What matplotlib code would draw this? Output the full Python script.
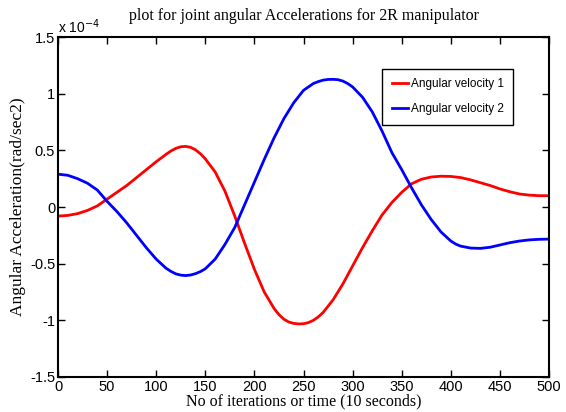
import numpy as np
from matplotlib import pyplot as plt

plt.rcParams['axes.unicode_minus'] = False

# joint angular accelerations, in units of 1e-4 rad/sec^2
# (extra samples around the turning points)
x1 = [0, 10, 20, 30, 40, 50, 60, 70, 80, 90,
      100, 110, 115, 120, 125, 130, 135, 140, 145, 150,
      160, 170, 180, 190, 200, 210, 220, 225, 230, 235,
      240, 245, 250, 255, 260, 265, 270, 280, 290, 300,
      310, 320, 330, 340, 350, 360, 370, 380, 390, 400,
      410, 420, 430, 440, 450, 460, 470, 480, 490, 500]
acc1 = [-0.08, -0.074, -0.058, -0.030, 0.01, 0.07, 0.13, 0.19, 0.26, 0.33,
        0.40, 0.465, 0.495, 0.518, 0.532, 0.535, 0.527, 0.505, 0.47, 0.425,
        0.31, 0.14, -0.08, -0.32, -0.55, -0.75, -0.895, -0.95, -0.99, -1.015,
        -1.027, -1.032, -1.03, -1.02, -1.0, -0.97, -0.93, -0.82, -0.68, -0.52,
        -0.36, -0.21, -0.07, 0.04, 0.13, 0.205, 0.245, 0.265, 0.272, 0.27,
        0.26, 0.24, 0.215, 0.19, 0.16, 0.135, 0.115, 0.105, 0.10, 0.10]

x2 = [0, 10, 20, 30, 40, 50, 60, 70, 80, 90,
      100, 110, 115, 120, 125, 130, 135, 140, 145, 150,
      160, 170, 180, 190, 200, 210, 220, 230, 240, 250,
      260, 265, 270, 275, 280, 285, 290, 295, 300, 310,
      320, 330, 340, 350, 360, 370, 380, 390, 400, 405,
      410, 420, 430, 440, 450, 460, 470, 480, 490, 500]
acc2 = [0.29, 0.28, 0.25, 0.21, 0.15, 0.05, -0.04, -0.14, -0.25, -0.36,
        -0.46, -0.54, -0.568, -0.59, -0.601, -0.605, -0.60, -0.588, -0.57, -0.545,
        -0.46, -0.33, -0.18, 0.02, 0.22, 0.42, 0.61, 0.78, 0.92, 1.03,
        1.09, 1.107, 1.12, 1.126, 1.127, 1.124, 1.112, 1.09, 1.06, 0.97,
        0.84, 0.67, 0.48, 0.33, 0.17, 0.02, -0.11, -0.22, -0.30, -0.327,
        -0.345, -0.362, -0.365, -0.355, -0.335, -0.315, -0.30, -0.29, -0.285, -0.283]

xticks = list(range(0, 501, 50))
yticks = [-1.5, -1, -0.5, 0, 0.5, 1, 1.5]
ytick_labels = ['-1.5', '-1', '-0.5', '0', '0.5', '1', '1.5']

fig = plt.figure(figsize=(5.66, 4.12), dpi=100)
ax = fig.add_axes([0.1025, 0.085, 0.8675, 0.825])

ax.plot(x1, acc1, color='red', linewidth=2.0, label='Angular velocity 1')
ax.plot(x2, acc2, color='blue', linewidth=2.0, label='Angular velocity 2')

ax.set_xlim(0, 500)
ax.set_ylim(-1.5, 1.5)
ax.set_xticks(xticks)
ax.set_xticklabels([str(t) for t in xticks])
ax.set_yticks(yticks)
ax.set_yticklabels(ytick_labels)

ax.tick_params(direction='in', length=5, width=1, top=True, right=True,
               labelsize=10.5, pad=2)
for lab in ax.get_xticklabels() + ax.get_yticklabels():
    lab.set_family('Liberation Sans')
for s in ax.spines.values():
    s.set_linewidth(1.5)

ax.text(0.0, 1.003, 'x 10$^{-4}$', transform=ax.transAxes, fontsize=10,
        family='Liberation Sans', ha='left', va='bottom')

ax.set_title('plot for joint angular Accelerations for 2R manipulator',
             family='Liberation Serif', fontsize=11.5, pad=12)
ax.set_xlabel('No of iterations or time (10 seconds)',
              family='Liberation Serif', fontsize=11.5, labelpad=0)
ax.set_ylabel('Angular Acceleration(rad/sec2)',
              family='Liberation Serif', fontsize=12.5, labelpad=3)

leg = ax.legend(loc='upper right', bbox_to_anchor=(0.927, 0.906),
                fancybox=False, framealpha=1, edgecolor='black',
                handlelength=1.4, handletextpad=0.2, borderpad=0.8,
                borderaxespad=0, labelspacing=1.1,
                prop={'family': 'Liberation Sans', 'size': 8.5})
leg.get_frame().set_linewidth(1.0)

fig.savefig('out.png', dpi=100)
